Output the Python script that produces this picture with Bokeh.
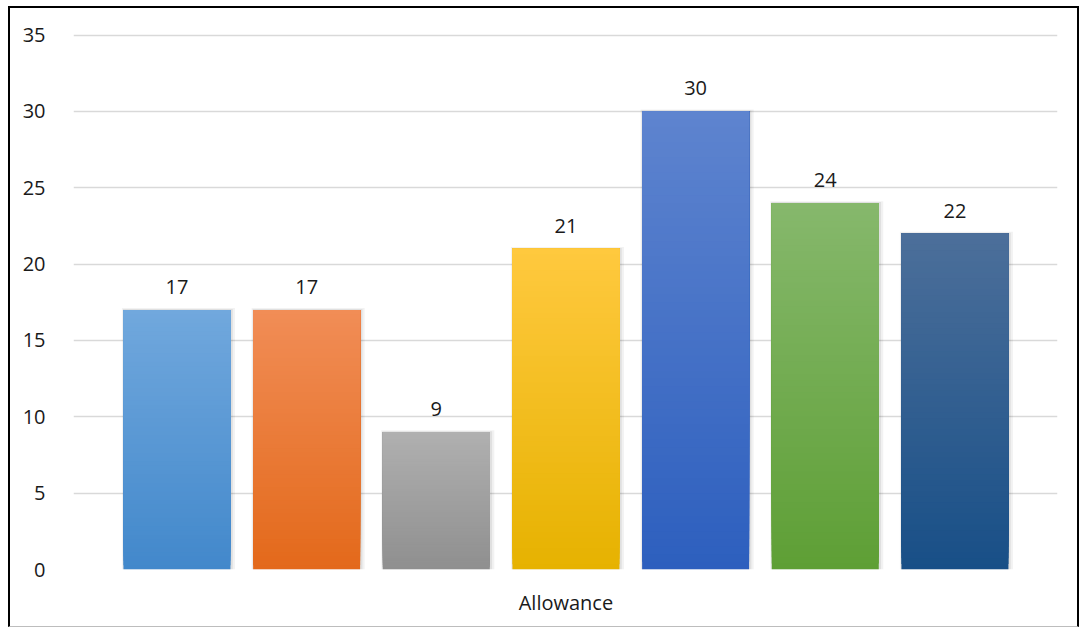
from bokeh.plotting import figure
from bokeh.models import ColumnDataSource, FixedTicker, Range1d
from bokeh.core.properties import value
from bokeh.embed import file_html
from bokeh.resources import INLINE

# ---- data ----
category = "Allowance"
values = [17, 17, 9, 21, 30, 24, 22]
top_colors = ["#71a8dd", "#f18d56", "#b0b0b0", "#ffc93f", "#5e84cf", "#86b86c", "#4c6f9a"]
bottom_colors = ["#4288cb", "#e3691b", "#8f8f8f", "#e6b200", "#2d5fbe", "#5e9f35", "#184f87"]
y_ticks = [0, 5, 10, 15, 20, 25, 30, 35]

FONT = "Open Sans"
BAR_W = 0.825
N_SLICES = 60


def hex2rgb(h):
    h = h.lstrip("#")
    return tuple(int(h[i:i + 2], 16) for i in (0, 2, 4))


def mix(c1, c2, t):
    a, b = hex2rgb(c1), hex2rgb(c2)
    return "#%02x%02x%02x" % tuple(round(a[i] + (b[i] - a[i]) * t) for i in range(3))


xs = list(range(len(values)))

p = figure(
    frame_width=984, frame_height=536,
    x_range=Range1d(-0.798, 6.791), y_range=Range1d(0, 35.1),
    output_backend="svg", toolbar_location=None,
    min_border_left=63, min_border_right=20, min_border_top=25, min_border_bottom=57,
    background_fill_color="white", border_fill_color="white",
    outline_line_color=None,
)
p.styles = {"margin-left": "8px", "margin-top": "6px",
            "border-left": "2px solid black", "border-top": "2px solid black",
            "border-right": "2px solid black", "border-bottom": "1px solid #bdbdbd"}

# shadow
sh = ColumnDataSource(dict(
    left=[x - BAR_W / 2 - 0.012 for x in xs],
    right=[x + BAR_W / 2 + 0.035 for x in xs],
    top=[v + 0.12 for v in values],
    bottom=[0] * len(values),
))
p.quad(left="left", right="right", top="top", bottom="bottom", source=sh,
       fill_color="black", fill_alpha=0.05, line_color=None)
sh2 = ColumnDataSource(dict(
    left=[x - BAR_W / 2 - 0.004 for x in xs],
    right=[x + BAR_W / 2 + 0.018 for x in xs],
    top=[v + 0.06 for v in values],
    bottom=[0] * len(values),
))
p.quad(left="left", right="right", top="top", bottom="bottom", source=sh2,
       fill_color="black", fill_alpha=0.07, line_color=None)

# gradient bars: each slice spans from its own bottom up to the bar top,
# drawn bottom-first so later slices cover earlier ones without seams
L, R, T, B, C = [], [], [], [], []
for k in range(N_SLICES):
    for x, v, ct, cb in zip(xs, values, top_colors, bottom_colors):
        b = v * k / N_SLICES
        frac = (k + 0.5) / N_SLICES  # 0 at bottom, 1 at top
        L.append(x - BAR_W / 2)
        R.append(x + BAR_W / 2)
        B.append(b)
        T.append(v)
        C.append(mix(cb, ct, frac))
bars = ColumnDataSource(dict(left=L, right=R, top=T, bottom=B, color=C))
p.quad(left="left", right="right", top="top", bottom="bottom", source=bars,
       fill_color="color", line_color=None)

# value labels
lbl = ColumnDataSource(dict(x=xs, y=values, text=[str(v) for v in values]))
p.text(x="x", y="y", text="text", source=lbl, text_align="center",
       text_baseline="bottom", y_offset=-16, text_font=value(FONT),
       text_font_size="20px", text_color="#1a1a1a")

# axes
p.yaxis.ticker = FixedTicker(ticks=y_ticks)
p.yaxis.axis_line_color = None
p.yaxis.major_tick_line_color = None
p.yaxis.minor_tick_line_color = None
p.yaxis.major_label_standoff = 22
p.yaxis.major_label_text_font = FONT
p.yaxis.major_label_text_font_size = "20px"
p.yaxis.major_label_text_color = "#1a1a1a"

p.xaxis.ticker = FixedTicker(ticks=[3])
p.xaxis.major_label_overrides = {3: category}
p.xaxis.axis_line_color = None
p.xaxis.major_tick_line_color = None
p.xaxis.minor_tick_line_color = None
p.xaxis.major_label_standoff = 13
p.xaxis.major_label_text_font = FONT
p.xaxis.major_label_text_font_size = "20px"
p.xaxis.major_label_text_color = "#1a1a1a"

p.xgrid.grid_line_color = None
p.ygrid.ticker = FixedTicker(ticks=y_ticks)
p.ygrid.grid_line_color = "#d9d9d9"
p.ygrid.grid_line_width = 1.5
p.ygrid.level = "underlay"

open("out.html", "w").write(file_html(p, INLINE))
